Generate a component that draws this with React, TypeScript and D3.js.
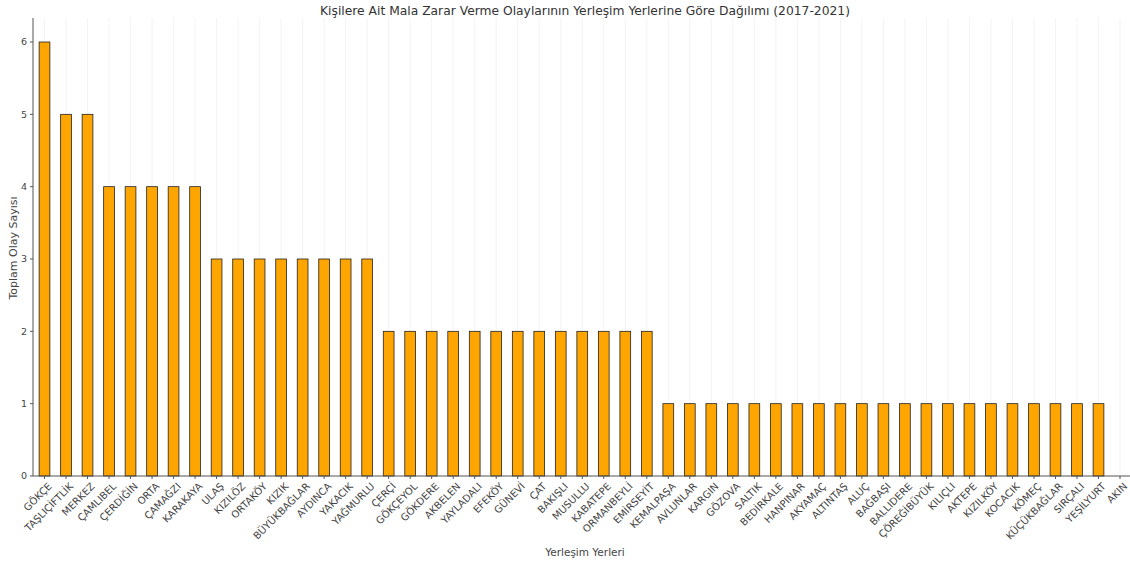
import React, { useEffect, useRef } from "react";
import * as d3 from "d3";

const places = [
  "GÖKÇE", "TAŞLIÇİFTLİK", "MERKEZ", "ÇAMLIBEL", "ÇERDİĞİN", "ORTA", "ÇAMAĞZI",
  "KARAKAYA", "ULAŞ", "KIZILÖZ", "ORTAKÖY", "KIZIK", "BÜYÜKBAĞLAR", "AYDINCA",
  "YAKACIK", "YAĞMURLU", "ÇERÇİ", "GÖKÇEYOL", "GÖKDERE", "AKBELEN", "YAYLADALI",
  "EFEKÖY", "GÜNEVİ", "ÇAT", "BAKIŞLI", "MUSULLU", "KABATEPE", "ORMANBEYLİ",
  "EMİRSEYİT", "KEMALPAŞA", "AVLUNLAR", "KARGIN", "GÖZOVA", "SALTIK", "BEDİRKALE",
  "HANPINAR", "AKYAMAÇ", "ALTINTAŞ", "ALUÇ", "BAĞBAŞI", "BALLIDERE", "ÇÖREĞİBÜYÜK",
  "KILIÇLI", "AKTEPE", "KIZILKÖY", "KOCACIK", "KÖMEÇ", "KÜÇÜKBAĞLAR", "SIRÇALI",
  "YEŞİLYURT", "AKIN",
];

const counts = [
  6, 5, 5, 4, 4, 4, 4, 4, 3, 3, 3, 3, 3, 3, 3, 3, 2, 2, 2, 2, 2, 2, 2, 2, 2, 2, 2,
  2, 2, 1, 1, 1, 1, 1, 1, 1, 1, 1, 1, 1, 1, 1, 1, 1, 1, 1, 1, 1, 1, 1, 0,
];

const yTicks = [0, 1, 2, 3, 4, 5, 6];

const App = () => {
  const ref = useRef<SVGSVGElement>(null);

  useEffect(() => {
    const width = 1130;
    const height = 567;
    const left = 33;
    const top = 18;
    const bottom = 476;

    const svg = d3.select(ref.current);
    svg.selectAll("*").remove();
    svg.attr("width", width).attr("height", height);

    const x = d3.scaleLinear().domain([0, 49]).range([44.5, 1098.5]);
    const bw = (x(1) - x(0)) * 0.5;
    const y = d3.scaleLinear().domain([0, 6]).range([bottom, 42]);

    // faint vertical grid
    svg
      .append("g")
      .selectAll("line")
      .data(places)
      .enter()
      .append("line")
      .attr("x1", (_, i) => x(i))
      .attr("x2", (_, i) => x(i))
      .attr("y1", top)
      .attr("y2", bottom)
      .attr("stroke", "#f3f3f3")
      .attr("stroke-width", 1);

    svg
      .append("g")
      .selectAll("rect")
      .data(counts)
      .enter()
      .append("rect")
      .attr("x", (_, i) => x(i) - bw / 2)
      .attr("y", (d) => y(d))
      .attr("width", bw)
      .attr("height", (d) => bottom - y(d))
      .attr("fill", "#ffa500")
      .attr("stroke", "#222")
      .attr("stroke-width", 0.8);

    // x axis
    const xAxis = svg.append("g").attr("transform", `translate(0, ${bottom})`);
    xAxis
      .append("line")
      .attr("x1", left)
      .attr("x2", width)
      .attr("stroke", "#555")
      .attr("stroke-width", 1);
    const xt = xAxis
      .selectAll("g.tick")
      .data(places)
      .enter()
      .append("g")
      .attr("class", "tick")
      .attr("transform", (_, i) => `translate(${x(i)}, 0)`);
    xt.append("line").attr("y2", 3).attr("stroke", "#555");
    xt.append("text")
      .text((d) => d)
      .attr("transform", "translate(3, 6) rotate(-45)")
      .attr("text-anchor", "end")
      .attr("dy", "0.7em")
      .attr("font-size", 10)
      .attr("fill", "#444")
      .attr("font-family", "DejaVu Sans");

    // y axis
    const yAxis = svg.append("g").attr("transform", `translate(${left}, 0)`);
    yAxis
      .append("line")
      .attr("y1", top)
      .attr("y2", bottom)
      .attr("stroke", "#555");
    const yt = yAxis
      .selectAll("g.tick")
      .data(yTicks)
      .enter()
      .append("g")
      .attr("transform", (d) => `translate(0, ${y(d)})`);
    yt.append("line").attr("x2", -3).attr("stroke", "#555");
    yt.append("text")
      .text((d) => d)
      .attr("x", -6)
      .attr("dy", "0.35em")
      .attr("text-anchor", "end")
      .attr("font-size", 9.5)
      .attr("fill", "#444")
      .attr("font-family", "DejaVu Sans");

    svg
      .append("text")
      .text("Kişilere Ait Mala Zarar Verme Olaylarının Yerleşim Yerlerine Göre Dağılımı (2017-2021)")
      .attr("x", 585)
      .attr("y", 15)
      .attr("text-anchor", "middle")
      .attr("font-size", 12.3)
      .attr("fill", "#333")
      .attr("font-family", "DejaVu Sans");

    svg
      .append("text")
      .text("Toplam Olay Sayısı")
      .attr("transform", "translate(17, 248) rotate(-90)")
      .attr("text-anchor", "middle")
      .attr("font-size", 11)
      .attr("fill", "#444")
      .attr("font-family", "DejaVu Sans");

    svg
      .append("text")
      .text("Yerleşim Yerleri")
      .attr("x", 585)
      .attr("y", 556)
      .attr("text-anchor", "middle")
      .attr("font-size", 10.5)
      .attr("fill", "#444")
      .attr("font-family", "DejaVu Sans");
  }, []);

  return (
    <svg
      ref={ref}
      style={{ position: "absolute", left: 0, top: 0, background: "#fff" }}
    />
  );
};

export default App;
